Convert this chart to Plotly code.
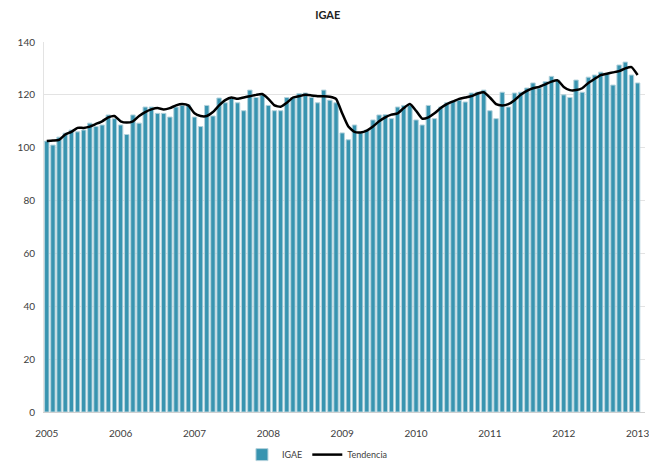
import plotly.graph_objects as go

YEARS = ["2005", "2006", "2007", "2008", "2009", "2010", "2011", "2012", "2013"]

# monthly IGAE, Jan 2005 .. Jan 2013
IGAE = [
    102.5, 101.0, 104.0, 105.5, 106.7, 106.0, 106.7, 109.3, 108.0, 108.6, 112.4, 111.0,
    108.6, 105.0, 112.4, 109.3, 115.4, 115.4, 113.0, 113.0, 111.6, 115.4, 116.0, 116.2,
    111.6, 108.0, 116.0, 112.0, 118.8, 117.0, 118.8, 117.0, 114.0, 121.8, 119.0, 120.0,
    116.0, 114.0, 114.0, 119.0, 119.0, 120.5, 120.7, 119.0, 117.0, 121.8, 118.0, 117.0,
    105.6, 103.0, 108.6, 105.6, 106.7, 110.5, 112.4, 112.5, 111.0, 115.4, 116.0, 116.0,
    110.5, 108.6, 116.0, 111.0, 115.4, 117.0, 117.6, 118.0, 117.3, 120.7, 121.0, 121.8,
    114.0, 111.0, 121.0, 115.4, 120.7, 121.0, 122.6, 124.5, 122.6, 125.0, 127.0, 125.6,
    120.0, 119.0, 125.6, 121.0, 126.7, 127.5, 128.6, 128.0, 123.7, 131.3, 132.4, 127.5,
    124.5,
]

TENDENCIA = [
    102.5, 102.7, 103.0, 105.0, 106.0, 107.5, 107.5, 108.0, 109.0, 110.0, 111.5, 112.0,
    110.0, 109.5, 110.0, 112.0, 113.5, 114.5, 115.0, 114.5, 115.0, 116.0, 116.5, 116.0,
    113.0, 112.0, 112.0, 113.5, 116.0, 118.0, 119.0, 118.5, 119.0, 119.5, 120.0, 120.3,
    118.5, 116.0, 115.5, 117.0, 119.0, 119.5, 120.0, 119.8, 119.5, 119.5, 119.3, 118.5,
    113.0, 108.0, 106.0, 105.8, 106.5, 108.0, 110.0, 111.5, 112.5, 113.0, 115.0, 116.5,
    114.0, 111.0, 111.5, 113.0, 115.0, 116.5, 117.5, 118.5, 119.0, 119.5, 120.5, 121.0,
    119.0, 116.5, 116.0, 116.5, 118.0, 120.0, 121.5, 122.5, 123.0, 124.0, 125.0, 125.5,
    123.0, 121.8, 121.8, 122.5, 124.5, 126.0, 127.5, 128.0, 128.5, 129.0, 130.0, 130.5,
    127.5,
]

months = list(range(len(IGAE)))

fig = go.Figure()
fig.add_trace(go.Bar(
    x=months, y=IGAE, name="IGAE",
    marker=dict(color="#3894b0", line=dict(color="#b3d2dc", width=1)),
))
fig.add_trace(go.Scatter(
    x=months, y=TENDENCIA, name="Tendencia", mode="lines",
    line=dict(color="black", width=2.5, shape="spline", smoothing=0.5),
))

fig.update_layout(
    width=649, height=462,
    paper_bgcolor="white", plot_bgcolor="white",
    font=dict(family="Lato, Open Sans, sans-serif", size=9, color="#404040"),
    title=dict(text="<b>IGAE</b>", x=0.505, xanchor="center", y=0.9675, yanchor="middle",
               font=dict(size=11, color="#222222")),
    margin=dict(l=44, r=4, t=42, b=50),
    bargap=0.28,
    showlegend=True,
    legend=dict(orientation="h", x=0.455, xanchor="center", yref="container",
                y=0.016, yanchor="middle",
                font=dict(size=9, color="#404040"), itemwidth=30),
)
fig.update_xaxes(
    tickmode="array", tickvals=[i * 12 for i in range(len(YEARS))], ticktext=YEARS,
    range=[-0.45, 97.2], showgrid=False, showline=True, linecolor="#d0d0d0",
    ticks="", tickfont=dict(size=10), automargin=False, ticklabeloverflow="allow",
    ticklabelstandoff=12,
)
fig.update_yaxes(
    range=[0, 140], dtick=20, showgrid=True, gridcolor="#e3e3e3", gridwidth=1,
    zeroline=False, showline=True, linecolor="#e3e3e3", ticks="", tickfont=dict(size=10),
    automargin=False, ticklabelstandoff=6,
)

# drop the default body margin so the figure fills the window exactly
fig.write_html("out.html", config={"displayModeBar": False},
               post_script="document.body.style.margin='0';")
